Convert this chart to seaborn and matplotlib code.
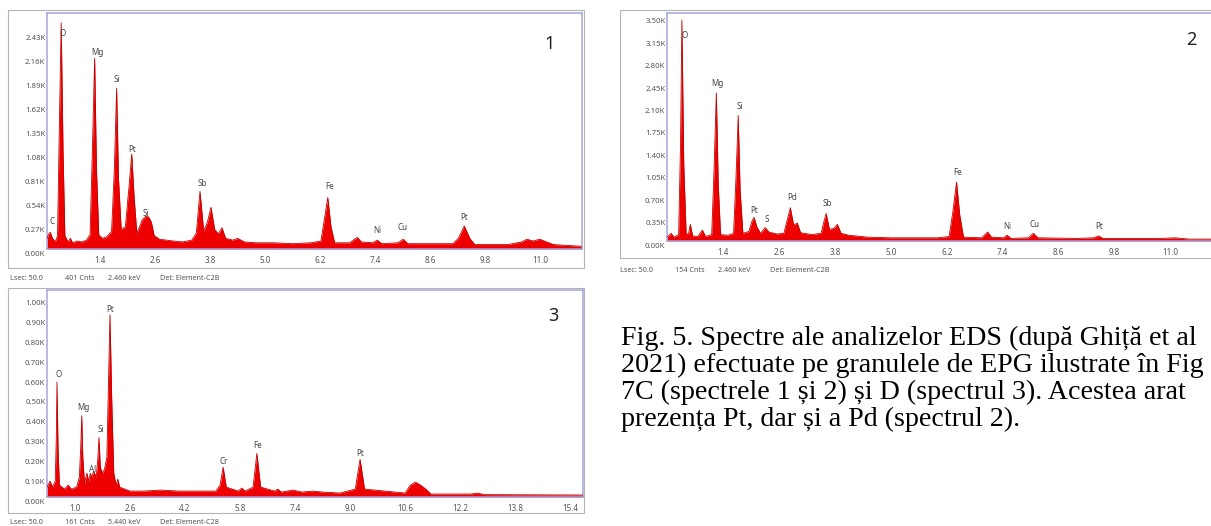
import numpy as np
import pandas as pd
import seaborn as sns
import matplotlib
matplotlib.use("Agg")
import matplotlib.pyplot as plt
from matplotlib.patches import Rectangle
from matplotlib.transforms import ScaledTranslation

# ---------------- data ----------------
# Spectrum 1: energy (keV) and counts (K) outline vertices
e1 = [0.24, 0.28, 0.31, 0.36, 0.42, 0.47, 0.51, 0.55, 0.59, 0.63, 0.70, 0.75, 0.80, 0.90, 1.00,
      1.10, 1.18, 1.23, 1.28, 1.32, 1.37, 1.45, 1.55, 1.65, 1.71, 1.76, 1.80, 1.86, 1.95, 2.03,
      2.09, 2.14, 2.20, 2.26, 2.32, 2.40, 2.46, 2.52, 2.58, 2.70, 2.85, 3.00, 3.20, 3.40, 3.50,
      3.58, 3.66, 3.74, 3.82, 3.90, 3.98, 4.06, 4.14, 4.30, 4.40, 4.55, 4.80, 5.20, 5.60, 6.00,
      6.22, 6.30, 6.37, 6.44, 6.52, 6.85, 6.95, 7.02, 7.10, 7.35, 7.45, 7.55, 7.90, 8.02, 8.12,
      8.60, 9.10, 9.22, 9.35, 9.47, 9.58, 10.30, 10.60, 10.72, 10.85, 11.00, 11.15, 11.30, 11.92]
c1 = [0.12, 0.17, 0.19, 0.12, 0.08, 0.15, 1.40, 2.55, 1.10, 0.15, 0.08, 0.12, 0.07, 0.09, 0.08,
      0.10, 0.16, 1.10, 2.15, 0.90, 0.16, 0.12, 0.14, 0.20, 0.90, 1.81, 0.80, 0.22, 0.25, 0.70,
      1.07, 0.60, 0.18, 0.25, 0.33, 0.37, 0.36, 0.30, 0.15, 0.11, 0.10, 0.09, 0.08, 0.10, 0.18,
      0.65, 0.20, 0.30, 0.47, 0.22, 0.17, 0.24, 0.12, 0.10, 0.12, 0.08, 0.07, 0.07, 0.06, 0.07,
      0.09, 0.35, 0.58, 0.25, 0.07, 0.07, 0.11, 0.13, 0.08, 0.07, 0.10, 0.06, 0.07, 0.11, 0.06,
      0.06, 0.06, 0.12, 0.26, 0.12, 0.05, 0.05, 0.08, 0.11, 0.09, 0.11, 0.08, 0.05, 0.03]

# Spectrum 2
e2 = [0.19, 0.28, 0.34, 0.44, 0.48, 0.51, 0.55, 0.60, 0.65, 0.69, 0.74, 0.85, 0.95, 1.02, 1.15,
      1.20, 1.25, 1.29, 1.34, 1.50, 1.62, 1.67, 1.72, 1.76, 1.82, 1.95, 2.01, 2.06, 2.12, 2.20,
      2.30, 2.38, 2.55, 2.70, 2.78, 2.84, 2.91, 2.99, 3.06, 3.30, 3.50, 3.56, 3.61, 3.68, 3.78,
      3.85, 3.93, 4.10, 4.50, 5.00, 5.50, 6.00, 6.25, 6.33, 6.41, 6.48, 6.56, 6.95, 7.02, 7.08,
      7.16, 7.42, 7.50, 7.58, 7.95, 8.06, 8.16, 9.00, 9.36, 9.46, 9.56, 10.80, 11.10, 11.40, 11.92]
c2 = [0.06, 0.12, 0.06, 0.10, 1.50, 3.45, 1.20, 0.12, 0.10, 0.26, 0.08, 0.07, 0.17, 0.07, 0.10,
      1.10, 2.31, 0.90, 0.10, 0.09, 0.12, 0.95, 1.96, 0.80, 0.12, 0.15, 0.30, 0.37, 0.22, 0.12,
      0.21, 0.14, 0.11, 0.12, 0.35, 0.52, 0.25, 0.28, 0.13, 0.10, 0.12, 0.30, 0.43, 0.18, 0.20,
      0.26, 0.12, 0.09, 0.06, 0.05, 0.05, 0.05, 0.07, 0.45, 0.92, 0.40, 0.06, 0.05, 0.10, 0.14,
      0.06, 0.05, 0.09, 0.04, 0.05, 0.12, 0.05, 0.04, 0.05, 0.08, 0.04, 0.04, 0.05, 0.03, 0.03]

# Spectrum 3
e3 = [0.19, 0.28, 0.35, 0.43, 0.46, 0.48, 0.51, 0.55, 0.70, 0.80, 0.90, 1.05, 1.13, 1.17, 1.20,
      1.23, 1.28, 1.35, 1.40, 1.45, 1.49, 1.55, 1.62, 1.67, 1.70, 1.74, 1.80, 1.86, 1.93, 1.98,
      2.02, 2.07, 2.13, 2.20, 2.25, 2.30, 2.60, 3.00, 3.50, 4.00, 4.50, 5.10, 5.22, 5.31, 5.40,
      5.75, 5.85, 5.95, 6.18, 6.29, 6.40, 6.80, 6.90, 7.00, 7.34, 7.60, 7.92, 8.20, 8.70, 9.15,
      9.29, 9.42, 10.60, 10.75, 10.90, 11.05, 11.20, 11.35, 12.50, 12.70, 12.90, 15.77]
c3 = [0.05, 0.08, 0.05, 0.08, 0.30, 0.58, 0.25, 0.06, 0.04, 0.06, 0.04, 0.05, 0.10, 0.25, 0.41,
      0.20, 0.07, 0.12, 0.08, 0.12, 0.10, 0.13, 0.10, 0.20, 0.30, 0.15, 0.12, 0.14, 0.20, 0.60,
      0.92, 0.50, 0.12, 0.06, 0.09, 0.05, 0.03, 0.03, 0.035, 0.03, 0.03, 0.03, 0.06, 0.15, 0.05,
      0.03, 0.045, 0.03, 0.05, 0.22, 0.05, 0.03, 0.04, 0.025, 0.035, 0.025, 0.03, 0.025, 0.02, 0.04,
      0.19, 0.04, 0.02, 0.06, 0.075, 0.06, 0.04, 0.015, 0.015, 0.02, 0.012, 0.01]

# element labels
lab1 = ["C", "O", "Mg", "Si", "Pt", "Si", "Sb", "Fe", "Ni", "Cu", "Pt"]
lx1 = [0.35, 0.59, 1.34, 1.77, 2.10, 2.40, 3.63, 6.40, 7.44, 8.01, 9.34]
ly1 = [0.31, 2.43, 2.22, 1.91, 1.12, 0.40, 0.74, 0.70, 0.21, 0.24, 0.36]

lab2 = ["O", "Mg", "Si", "Pt", "S", "Pd", "Sb", "Fe", "Ni", "Cu", "Pt"]
lx2 = [0.56, 1.27, 1.76, 2.06, 2.34, 2.88, 3.63, 6.43, 7.50, 8.09, 9.48]
ly2 = [3.21, 2.46, 2.10, 0.48, 0.34, 0.68, 0.59, 1.07, 0.22, 0.26, 0.23]

lab3 = ["O", "Mg", "Al", "Si", "Pt", "Cr", "Fe", "Pt"]
lx3 = [0.54, 1.26, 1.50, 1.75, 2.02, 5.33, 6.32, 9.29]
ly3 = [0.62, 0.45, 0.14, 0.34, 0.945, 0.18, 0.26, 0.22]

# axis ticks
xt12 = [1.4, 2.6, 3.8, 5.0, 6.2, 7.4, 8.6, 9.8, 11.0]
xt3 = [1.0, 2.6, 4.2, 5.8, 7.4, 9.0, 10.6, 12.2, 13.8, 15.4]
yt1 = [0.00, 0.27, 0.54, 0.81, 1.08, 1.35, 1.62, 1.89, 2.16, 2.43]
yt2 = [0.00, 0.35, 0.70, 1.05, 1.40, 1.75, 2.10, 2.45, 2.80, 3.15, 3.50]
yt3 = [0.00, 0.10, 0.20, 0.30, 0.40, 0.50, 0.60, 0.70, 0.80, 0.90, 1.00]

footers = [["Lsec: 50.0", "401 Cnts", "2.460 keV", "Det: Element-C2B"],
           ["Lsec: 50.0", "154 Cnts", "2.460 keV", "Det: Element-C2B"],
           ["Lsec: 50.0", "161 Cnts", "5.440 keV", "Det: Element-C28"]]

# caption lines as far as they are visible in the picture
caption = ["Fig. 5. Spectre ale analizelor EDS (după Ghiță et al",
           "2021) efectuate pe granulele de EPG ilustrate în Fig",
           "7C (spectrele 1 și 2) și D (spectrul 3). Acestea arat",
           "prezența Pt, dar și a Pd (spectrul 2)."]

# ---------------- drawing ----------------
sns.set_style("white")
plt.rcParams["font.family"] = ["Noto Sans", "DejaVu Sans"]

W, H = 1211, 526
fig = plt.figure(figsize=(W / 100, H / 100), dpi=100)
fig.patch.set_facecolor("white")

def fr(l, t, r, b):
    return [l / W, 1 - b / H, (r - l) / W, (b - t) / H]

RED = "#ee0000"
EDGE = "#c40000"
SPINE = "#a3a6dc"
TXT = "#555555"

def panel(rect, e, c, xlim, ylim, xt, yt, labs, lx, ly, num, numpos):
    ax = fig.add_axes(rect)
    df = pd.DataFrame({"keV": e, "K": c})
    ax.fill_between(df["keV"], 0, df["K"], color=RED, lw=0, zorder=2)
    sns.lineplot(data=df, x="keV", y="K", ax=ax, color=EDGE, lw=0.6, zorder=3,
                 estimator=None, sort=False)
    ax.set_xlim(*xlim)
    ax.set_ylim(*ylim)
    ax.set_xlabel("")
    ax.set_ylabel("")
    ax.set_xticks(xt)
    ax.set_xticklabels([f"{v:.1f}" for v in xt], fontsize=5.8, color=TXT)
    ax.set_yticks(yt)
    ax.set_yticklabels([f"{v:.2f}K" for v in yt], fontsize=5.6, color=TXT)
    ax.tick_params(axis="both", length=0)
    ax.tick_params(axis="x", pad=5)
    ax.tick_params(axis="y", pad=1)
    off = ScaledTranslation(0, -0.04, fig.dpi_scale_trans)
    for t in ax.get_yticklabels():
        t.set_transform(t.get_transform() + off)
    for s in ax.spines.values():
        s.set_color(SPINE)
        s.set_linewidth(1.1)
    for n, x, y in zip(labs, lx, ly):
        ax.text(x, y, n, fontsize=5.8, color="#444444", ha="center", va="center", zorder=4)
    ax.text(numpos[0], numpos[1], num, transform=ax.transAxes, fontsize=13,
            color="#222222", ha="center", va="center")
    return ax

panel(fr(47, 13, 582, 249), e1, c1, (0.24, 11.92), (0, 2.66), xt12, yt1,
      lab1, lx1, ly1, "1", (0.94, 0.87))
panel(fr(667, 13, 1213, 241), e2, c2, (0.19, 11.92), (0, 3.56), xt12, yt2,
      lab2, lx2, ly2, "2", (0.96, 0.88))
panel(fr(47, 290, 583, 497), e3, c3, (0.19, 15.77), (0, 1.045), xt3, yt3,
      lab3, lx3, ly3, "3", (0.944, 0.874))

# outer frames of the software windows
for (l, t, r, b) in [(8, 10, 584, 268), (620, 10, 1216, 258), (8, 288, 584, 513)]:
    fig.patches.append(Rectangle((l / W, 1 - b / H), (r - l) / W, (b - t) / H,
                                 transform=fig.transFigure, fill=False,
                                 edgecolor="#b4b4b4", lw=0.8, zorder=0))

# footers
foot_pos = [(10, 279), (620, 271), (10, 523)]
foot_dx = [0, 55, 98, 150]
for (fx, fy), items in zip(foot_pos, footers):
    for dx, s in zip(foot_dx, items):
        fig.text((fx + dx) / W, 1 - fy / H, s, fontsize=5.2, color=TXT,
                 ha="left", va="center")

# caption
for i, line in enumerate(caption):
    fig.text(621 / W, 1 - (345 + 27 * i) / H, line, fontsize=20.2, color="black",
             family=["Liberation Serif", "DejaVu Serif"], ha="left", va="baseline")

fig.savefig("out.png", dpi=100)
